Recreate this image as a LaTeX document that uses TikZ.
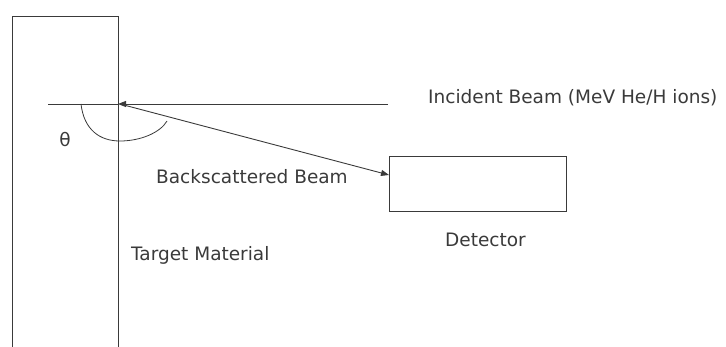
\documentclass[tikz,border=0pt]{standalone}
\usepackage{fontspec}
\setmainfont{DejaVu Sans}
\usetikzlibrary{arrows.meta}
\definecolor{ink}{HTML}{3A3A3A}
\tikzset{
  wire/.style={draw=ink, line width=0.9pt},
  beam/.style={wire, -{Triangle[length=8pt,width=6pt]}},
  lbl/.style={text=ink, font=\fontsize{18.5}{22}\selectfont, inner sep=0pt, anchor=west},
}
\begin{document}
\begin{tikzpicture}[x=1pt, y=-1pt]
  \useasboundingbox (0,0) rectangle (726,347);
  % target slab (open at the bottom)
  \draw[wire] (12.5,360) -- (12.5,16) -- (118,16) -- (118,360);
  % detector box
  \node[wire, minimum width=177pt, minimum height=55pt, inner sep=0pt, anchor=north west] (det) at (389,156) {};
  % beam geometry
  \coordinate (hit) at (118,104);
  \coordinate (lft) at (48,104);
  \coordinate (src) at (388,104);
  \draw[wire] (lft) -- (hit);
  \draw[beam] (src) -- (hit);
  \draw[beam] (120,104) -- (det.west |- 0,175);
  % scattering angle
  \draw[wire, line width=0.8pt] (81,104) .. controls (84,130) and (100,141) .. (120,141)
        .. controls (140,141) and (160,133) .. (167,121);
  % labels
  \node[lbl] (inc) at (428,98) {Incident Beam (MeV He/H ions)};
  \node[lbl, anchor=center] (th) at (65,140) {θ};
  \node[lbl] (bs) at (156,177) {Backscattered Beam};
  \node[lbl] (det lbl) at (445,240) {Detector};
  \node[lbl] (tgt) at (131,255) {Target Material};
\end{tikzpicture}
\end{document}
